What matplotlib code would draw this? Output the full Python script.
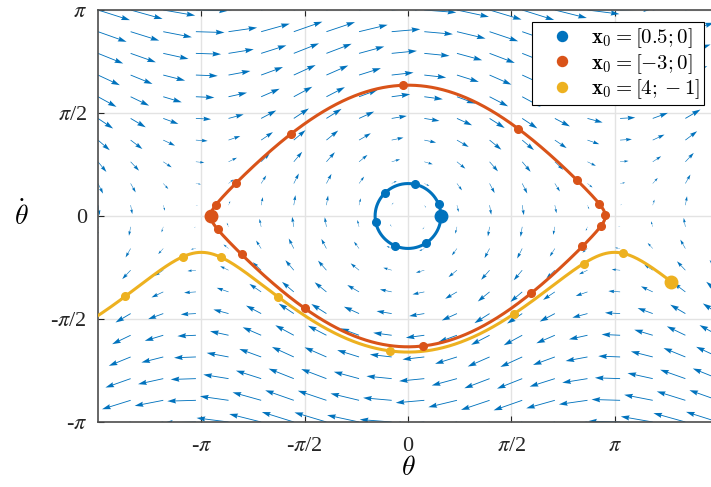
import numpy as np
import matplotlib
matplotlib.use("Agg")
import matplotlib.pyplot as plt

plt.rcParams['font.family'] = ['Liberation Serif', 'DejaVu Serif']
plt.rcParams['mathtext.fontset'] = 'stix'

# initial states [theta; theta_dot] and how long each one is simulated (s)
x0_list = [[0.5, 0.0], [-3.0, 0.0], [4.0, -1.0]]
t_end = [6.4, 16.2, 10.0]
labels = [r'$\mathbf{x}_0 = [0.5; 0]$', r'$\mathbf{x}_0 = [-3; 0]$', r'$\mathbf{x}_0 = [4; -1]$']
colors = ['#0072BD', '#D95319', '#EDB120']

# vector field grid
n_grid = 20
theta_lim = [-1.5 * np.pi, 1.5 * np.pi]
omega_lim = [-np.pi, np.pi]

tick_vals = [-np.pi, -np.pi / 2, 0, np.pi / 2, np.pi]
tick_labels = ['-$\\pi$', '-$\\pi$/2', '0', '$\\pi$/2', '$\\pi$']


def pendulum(s):
    return np.array([s[1], -np.sin(s[0])])


def simulate(x0, T, dt=0.001):
    steps = int(round(T / dt))
    out = np.zeros((steps + 1, 2))
    s = np.array(x0, dtype=float)
    out[0] = s
    for i in range(steps):
        k1 = pendulum(s)
        k2 = pendulum(s + dt / 2 * k1)
        k3 = pendulum(s + dt / 2 * k2)
        k4 = pendulum(s + dt * k3)
        s = s + dt / 6 * (k1 + 2 * k2 + 2 * k3 + k4)
        out[i + 1] = s
    return out, int(round(1 / dt))


fig = plt.figure(figsize=(7.11, 4.87), dpi=100)
ax = fig.add_axes([98 / 711, 65 / 487, 620 / 711, 412 / 487])

# quiver, scaled like matlab's autoscale
th = np.linspace(theta_lim[0], theta_lim[1], n_grid)
om = np.linspace(omega_lim[0], omega_lim[1], n_grid)
TH, OM = np.meshgrid(th, om)
U = OM
V = -np.sin(TH)
delx = (theta_lim[1] - theta_lim[0]) / n_grid
dely = (omega_lim[1] - omega_lim[0]) / n_grid
maxlen = np.max(np.sqrt((U ** 2 + V ** 2) / (delx ** 2 + dely ** 2)))
ax.quiver(TH, OM, U, V, color='#0072BD', angles='xy', scale_units='xy',
          scale=maxlen / 0.9, width=0.0014, headwidth=6, headlength=10,
          headaxislength=9, minshaft=2, zorder=2)

handles = []
for x0, T, lab, c in zip(x0_list, t_end, labels, colors):
    traj, every = simulate(x0, T)
    ax.plot(traj[:, 0], traj[:, 1], color=c, lw=2.2, zorder=3)
    ax.plot(traj[every::every, 0], traj[every::every, 1], 'o', color=c, ms=5.5, zorder=4)
    h, = ax.plot(x0[0], x0[1], 'o', color=c, ms=9, zorder=5, label=lab)
    handles.append(h)

ax.set_xlim(theta_lim)
ax.set_ylim(omega_lim)
ax.set_xticks(tick_vals)
ax.set_xticklabels(tick_labels)
ax.set_yticks(tick_vals)
ax.set_yticklabels(tick_labels)
ax.grid(True, color='#e3e3e3', lw=1, zorder=0)
ax.set_axisbelow(True)
ax.tick_params(direction='in', top=True, right=True, length=4, width=0.8,
               color='#262626', labelsize=16, labelcolor='#262626')
ax.tick_params(axis='x', pad=11)
ax.tick_params(axis='y', pad=8)
for sp in ax.spines.values():
    sp.set_color('#4d4d4d')
    sp.set_linewidth(1.2)

ax.set_xlabel(r'$\theta$', fontsize=20, labelpad=0, math_fontfamily='cm')
ax.set_ylabel(r'$\dot{\theta}$', fontsize=20, rotation=0, labelpad=21,
              va='center', math_fontfamily='cm')

leg = fig.legend(handles=handles, loc='upper right',
                 bbox_to_anchor=(704 / 711, 1 - 22 / 487), bbox_transform=fig.transFigure,
                 borderaxespad=0, fontsize=15, markerscale=0.8, handlelength=2.5,
                 handletextpad=0.15, borderpad=0.2, labelspacing=0.09,
                 fancybox=False, framealpha=1, edgecolor='black')
leg.get_frame().set_linewidth(0.8)
for t in leg.get_texts():
    t.set_math_fontfamily('cm')

fig.savefig('out.png', dpi=100)
